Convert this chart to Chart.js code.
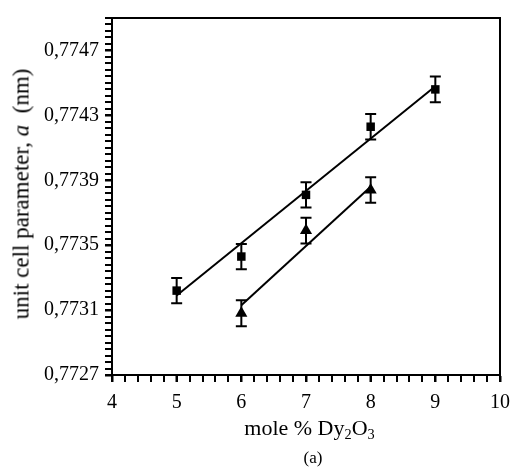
<!DOCTYPE html>
<html>
<head>
<meta charset="utf-8">
<script src="https://cdn.jsdelivr.net/npm/chart.js@4.4.1/dist/chart.umd.min.js"></script>
<style>
    html, body { margin: 0; padding: 0; background: #fff; }
    #wrap { position: relative; width: 519px; height: 471px; font-family: 'Liberation Serif', 'Times New Roman', serif; color: #000; }
    #chart { position: absolute; left: 0; top: 0; }
    .lbl { position: absolute; white-space: nowrap; line-height: 1; }
    .lbl sub { font-size: 0.65em; vertical-align: -0.25em; line-height: 0; }
    #ytitle { left: 21px; top: 194px; font-size: 23px; transform: translate(-50%, -50%) rotate(-90deg); }
    #xtitle { left: 112px; width: 395px; top: 417px; text-align: center; font-size: 22px; }
    #caption { left: 112px; width: 402px; top: 449px; text-align: center; font-size: 17px; }
</style>
</head>
<body>
<div id="wrap">
    <canvas id="chart" width="519" height="471"></canvas>
    <div class="lbl" id="ytitle">unit cell parameter, <i>a</i>&nbsp; (nm)</div>
    <div class="lbl" id="xtitle">mole % Dy<sub>2</sub>O<sub>3</sub></div>
    <div class="lbl" id="caption">(a)</div>
</div>
<script>
// Data
const xSquares = [5, 6, 7, 8, 9];
const ySquares = [0.77322, 0.77343, 0.77381, 0.77423, 0.77446];
const errSquares = [0.000078, 0.000078, 0.000078, 0.000079, 0.000079];

const xTriangles = [6, 7, 8];
const yTriangles = [0.77308, 0.77359, 0.77384];
const errTriangles = [0.00008, 0.000079, 0.000079];

// linear fits as drawn in the figure (end points)
const xFitSquares = [5, 9];
const yFitSquares = [0.77319, 0.77448];
const xFitTriangles = [6, 8];
const yFitTriangles = [0.77313, 0.77386];

// axes
const xTickValues = [4, 5, 6, 7, 8, 9, 10];
const xTickLabels = ['4', '5', '6', '7', '8', '9', '10'];
const yTickValues = [0.7727, 0.7731, 0.7735, 0.7739, 0.7743, 0.7747];
const yTickLabels = ['0,7727', '0,7731', '0,7735', '0,7739', '0,7743', '0,7747'];
const xMin = 4, xMax = 10, xMinorStep = 0.2;
const yMin = 0.7727, yMax = 0.7749, yMinorStep = 0.00004;
const TICK_LEN = 7;

const toPoints = (xs, ys) => xs.map((x, i) => ({ x: x, y: ys[i] }));

function stepValues(min, max, step) {
    const out = [];
    const n = Math.round((max - min) / step);
    for (let i = 0; i <= n; i++) out.push(min + i * step);
    return out;
}

// vertical error bars with caps
const errorBars = {
    id: 'errorBars',
    beforeDatasetsDraw(chart) {
        const ctx = chart.ctx;
        const xs = chart.scales.x, ys = chart.scales.y;
        ctx.save();
        ctx.strokeStyle = '#000';
        ctx.lineWidth = 2;
        chart.data.datasets.forEach(ds => {
            if (!ds.errors) return;
            ds.data.forEach((p, i) => {
                const px = xs.getPixelForValue(p.x);
                const top = ys.getPixelForValue(p.y + ds.errors[i]);
                const bot = ys.getPixelForValue(p.y - ds.errors[i]);
                ctx.beginPath();
                ctx.moveTo(px, top); ctx.lineTo(px, bot);
                ctx.moveTo(px - 5.5, top); ctx.lineTo(px + 5.5, top);
                ctx.moveTo(px - 5.5, bot); ctx.lineTo(px + 5.5, bot);
                ctx.stroke();
            });
        });
        ctx.restore();
    }
};

// box around plot area + minor tick marks on both axes
const frame = {
    id: 'frame',
    afterDraw(chart) {
        const a = chart.chartArea;
        const ctx = chart.ctx;
        const xs = chart.scales.x, ys = chart.scales.y;
        ctx.save();
        ctx.strokeStyle = '#000';
        ctx.lineWidth = 2;
        ctx.beginPath();
        stepValues(xMin, xMax, xMinorStep).forEach(v => {
            const px = Math.round(xs.getPixelForValue(v));
            ctx.moveTo(px, a.bottom); ctx.lineTo(px, a.bottom + TICK_LEN);
        });
        stepValues(yMin, yMax, yMinorStep).forEach(v => {
            const py = Math.round(ys.getPixelForValue(v));
            ctx.moveTo(a.left, py); ctx.lineTo(a.left - TICK_LEN, py);
        });
        ctx.stroke();
        ctx.strokeRect(a.left, a.top, a.right - a.left, a.bottom - a.top);
        ctx.restore();
    }
};

const tickFont = { family: "'Liberation Serif', 'Times New Roman', serif", size: 20 };

new Chart(document.getElementById('chart'), {
    type: 'scatter',
    data: {
        datasets: [
            {
                data: toPoints(xFitSquares, yFitSquares),
                showLine: true, borderColor: '#000', borderWidth: 2, pointRadius: 0
            },
            {
                data: toPoints(xFitTriangles, yFitTriangles),
                showLine: true, borderColor: '#000', borderWidth: 2, pointRadius: 0
            },
            {
                data: toPoints(xSquares, ySquares),
                errors: errSquares,
                pointStyle: 'rect', pointRadius: 6,
                backgroundColor: '#000', borderColor: '#000', borderWidth: 0
            },
            {
                data: toPoints(xTriangles, yTriangles),
                errors: errTriangles,
                pointStyle: 'triangle', pointRadius: 7,
                backgroundColor: '#000', borderColor: '#000', borderWidth: 0
            }
        ]
    },
    options: {
        responsive: false,
        animation: false,
        devicePixelRatio: 1,
        layout: { padding: { top: 13, right: 12, left: 0, bottom: 0 } },
        plugins: {
            legend: { display: false },
            tooltip: { enabled: false }
        },
        scales: {
            x: {
                type: 'linear',
                min: xMin,
                max: xMax,
                afterBuildTicks: scale => { scale.ticks = xTickValues.map(v => ({ value: v })); },
                afterFit: scale => { scale.height = 96; },
                ticks: {
                    autoSkip: false,
                    maxRotation: 0,
                    padding: 9,
                    color: '#000',
                    font: tickFont,
                    callback: (v, i) => xTickLabels[i]
                },
                grid: {
                    drawOnChartArea: false,
                    tickLength: TICK_LEN,
                    tickWidth: 2,
                    tickColor: '#000'
                },
                border: { color: '#000', width: 2 }
            },
            y: {
                type: 'linear',
                min: yMin,
                max: yMax,
                afterBuildTicks: scale => { scale.ticks = yTickValues.map(v => ({ value: v })); },
                afterFit: scale => { scale.width = 112; },
                ticks: {
                    autoSkip: false,
                    padding: 6,
                    color: '#000',
                    font: tickFont,
                    callback: (v, i) => yTickLabels[i]
                },
                grid: {
                    drawOnChartArea: false,
                    tickLength: TICK_LEN,
                    tickWidth: 2,
                    tickColor: '#000'
                },
                border: { color: '#000', width: 2 }
            }
        }
    },
    plugins: [errorBars, frame]
});
</script>
</body>
</html>
